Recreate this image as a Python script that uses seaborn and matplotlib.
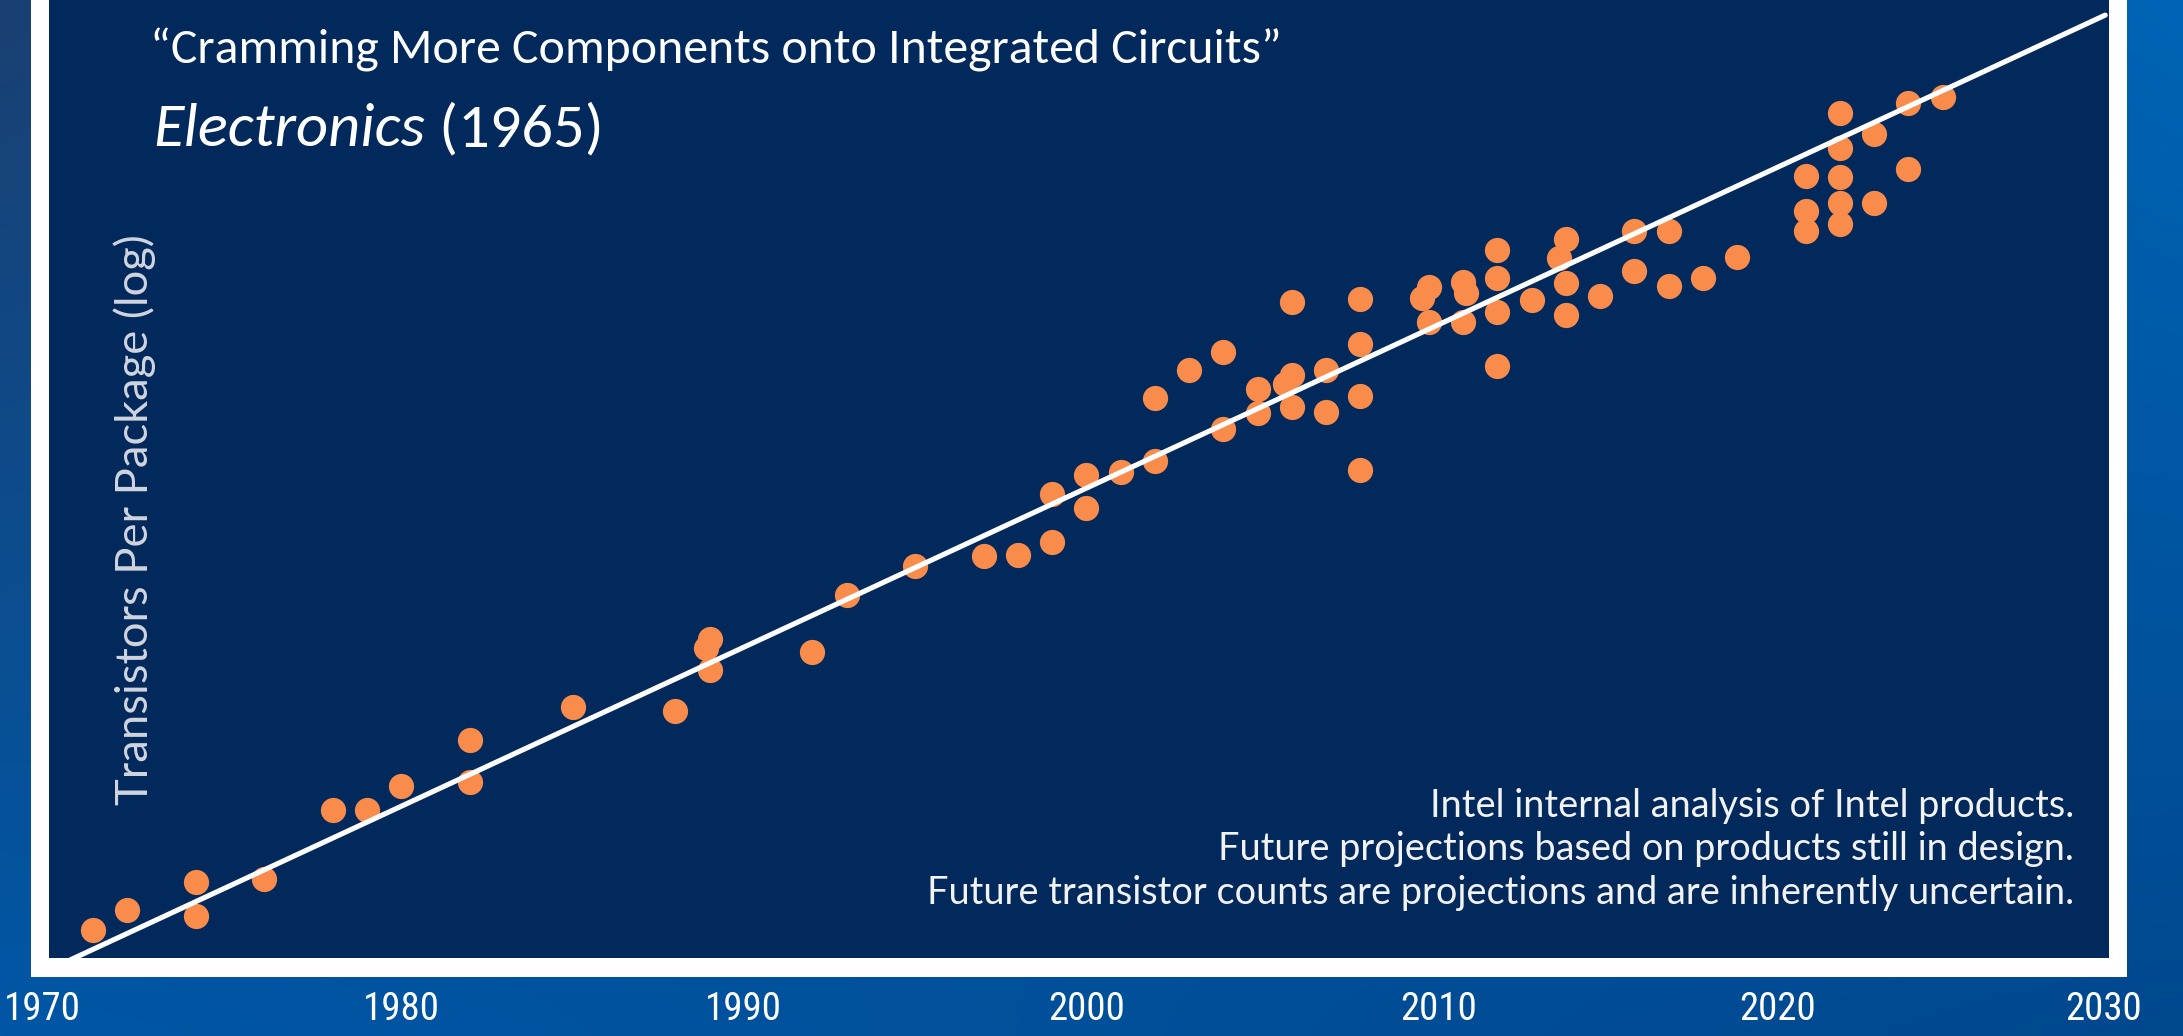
import numpy as np
import pandas as pd
import matplotlib
matplotlib.use("Agg")
import matplotlib.pyplot as plt
from matplotlib.patches import Rectangle
from matplotlib.transforms import ScaledTranslation
from matplotlib import font_manager
import seaborn as sns

# ---------------- data ----------------
years = [1971, 1972, 1974, 1974, 1976, 1978, 1979, 1980, 1982, 1982,
         1985, 1988, 1989, 1988.9, 1989, 1992, 1993, 1995, 1997, 1998,
         1999, 1999, 2000, 2000, 2001, 2002, 2002, 2003, 2004, 2004,
         2005, 2005, 2005.8, 2006, 2006, 2006, 2007, 2007, 2008, 2008, 2008, 2008,
         2009.8, 2010, 2010, 2011, 2011.1, 2011, 2012, 2012, 2012, 2012,
         2013, 2014, 2013.8, 2014, 2014, 2015, 2016, 2016, 2017, 2017,
         2018, 2019, 2021, 2021, 2021, 2022, 2022, 2022, 2022, 2022,
         2023, 2023, 2024, 2024, 2025]
log10_transistors = [3.36, 3.55, 3.81, 3.49, 3.84, 4.50, 4.50, 4.73, 5.17, 4.77,
                     5.48, 5.44, 6.13, 6.04, 5.83, 6.00, 6.55, 6.82, 6.92, 6.93,
                     7.05, 7.51, 7.38, 7.69, 7.72, 7.82, 8.42, 8.69, 8.86, 8.13,
                     8.51, 8.28, 8.56, 8.64, 8.34, 9.34, 8.69, 8.29, 9.37, 8.94, 8.44, 7.74,
                     9.38, 9.48, 9.15, 9.53, 9.42, 9.15, 9.83, 9.57, 9.24, 8.73,
                     9.36, 9.94, 9.76, 9.52, 9.21, 9.39, 10.01, 9.63, 10.01, 9.49,
                     9.57, 9.77, 10.54, 10.20, 10.01, 11.14, 10.80, 10.53, 10.28, 10.08,
                     10.94, 10.28, 11.23, 10.60, 11.29]
trend_years = [1970, 2029.75]
trend_log10 = [3.02, 12.07]
xtick_years = [1970, 1980, 1990, 2000, 2010, 2020, 2030]

title_line1 = "\u201cCramming More Components onto Integrated Circuits\u201d"
title_italic = "Electronics"
title_rest = " (1965)"
ylabel = "Transistors Per Package (log)"
notes = ["Intel internal analysis of Intel products.",
         "Future projections based on products still in design.",
         "Future transistor counts are projections and are inherently uncertain."]

df = pd.DataFrame({"year": years, "transistors": 10 ** np.array(log10_transistors)})
df_trend = pd.DataFrame({"year": trend_years, "transistors": 10 ** np.array(trend_log10)})

# ---------------- styling ----------------
sns.set_theme(style="white")
available = {f.name for f in font_manager.fontManager.ttflist}
def pick(*names):
    for n in names:
        if n in available:
            return n
    return "DejaVu Sans"
title_font = pick("Carlito", "Roboto Condensed", "Liberation Sans Narrow", "Lato", "DejaVu Sans")
body_font = pick("Lato", "Open Sans", "Noto Sans", "DejaVu Sans")
tick_font = pick("Liberation Sans Narrow", "Roboto Condensed", "Lato", "DejaVu Sans")
plt.rcParams["font.family"] = [body_font, "DejaVu Sans"]

W, H = 2183, 1036
DPI = 100
fig = plt.figure(figsize=(W / DPI, H / DPI), dpi=DPI)

def fx(px):
    return px / W
def fy(py):
    return 1 - py / H

# background gradient
bg = fig.add_axes([0, 0, 1, 1], zorder=-10)
tl = np.array([0x1A, 0x40, 0x72]) / 255
bl = np.array([0x00, 0x57, 0xA6]) / 255
tr = np.array([0x00, 0x64, 0xB6]) / 255
br = np.array([0x00, 0x48, 0x8E]) / 255
u = np.linspace(0, 1, 200)[None, :, None]
v = np.linspace(0, 1, 100)[:, None, None]
grad = (1 - u) * (1 - v) * tl + u * (1 - v) * tr + (1 - u) * v * bl + u * v * br
bg.imshow(grad, extent=[0, 1, 0, 1], aspect="auto", origin="upper", interpolation="bilinear")
bg.set_axis_off()

# white frame and navy panel
fig.add_artist(Rectangle((fx(31), fy(977)), fx(2127) - fx(31), fy(0) - fy(977),
                         transform=fig.transFigure, facecolor="white", edgecolor="none", zorder=-5))
fig.add_artist(Rectangle((fx(49), fy(958)), fx(2109) - fx(49), fy(0) - fy(958),
                         transform=fig.transFigure, facecolor="#02295B", edgecolor="none", zorder=-4))

# main axes (transparent, spans the navy panel)
ax_left, ax_right, ax_top, ax_bottom = 49, 2120, 0, 958
ax = fig.add_axes([fx(ax_left), fy(ax_bottom), fx(ax_right) - fx(ax_left), fy(ax_top) - fy(ax_bottom)])
ax.patch.set_alpha(0)
px_per_year = 34.25
x_1980 = 401.3
ax.set_xlim(1980 + (ax_left - x_1980) / px_per_year, 1980 + (ax_right - x_1980) / px_per_year)
ax.set_yscale("log")
ax.set_ylim(10 ** 3.089, 10 ** 12.214)

sns.scatterplot(data=df, x="year", y="transistors", ax=ax, s=330, color="#F98B4B",
                linewidth=0, zorder=3, legend=False)
sns.lineplot(data=df_trend, x="year", y="transistors", ax=ax, color="white",
             linewidth=3.7, zorder=4, legend=False)

for s in ax.spines.values():
    s.set_visible(False)
ax.set_xlabel("")
ax.set_ylabel("")
ax.set_yticks([])
ax.yaxis.set_minor_locator(matplotlib.ticker.NullLocator())
ax.set_xticks(xtick_years)
ax.set_xticklabels([str(y) for y in xtick_years], family=[tick_font, "DejaVu Sans"],
                   fontsize=28, color="white")
ax.tick_params(axis="x", length=0, pad=24)
ax.grid(False)

# texts
fig.canvas.draw()
r = fig.canvas.get_renderer()

# nudge some year labels as placed on the slide
label_shift_px = {"1970": -16, "2010": 10, "2020": 6, "2030": -10}
for lab in ax.get_xticklabels():
    dx = label_shift_px.get(lab.get_text(), 0)
    if dx:
        lab.set_transform(lab.get_transform() + ScaledTranslation(dx / DPI, 0, fig.dpi_scale_trans))

t1 = fig.text(fx(150), fy(63), title_line1, family=[title_font, "DejaVu Sans"], fontsize=40,
              color="white", ha="left", va="baseline")
bb1 = t1.get_window_extent(r)
t1.set_fontsize(40 * 1130 / bb1.width)

t2 = fig.text(fx(153), fy(146), title_italic, family=[title_font, "DejaVu Sans"], style="italic",
              fontsize=40, color="white", ha="left", va="baseline")
t3 = fig.text(fx(300), fy(146), title_rest, family=[title_font, "DejaVu Sans"],
              fontsize=40, color="white", ha="left", va="baseline")
w2 = t2.get_window_extent(r).width + t3.get_window_extent(r).width
fs2 = 40 * 450 / w2
t2.set_fontsize(fs2)
t3.set_fontsize(fs2)
bb2 = t2.get_window_extent(r)
t3.set_x(bb2.x1 / W)

yl = fig.text(fx(135), fy(520), ylabel, rotation=90, ha="center", va="center",
              fontsize=28, color="#D0D5DF", family=[body_font, "DejaVu Sans"])
bby = yl.get_window_extent(r)
yl.set_fontsize(yl.get_fontsize() * 571 / bby.height)

note_y = [806, 849, 893]
nt = []
for line, y in zip(notes, note_y):
    nt.append(fig.text(fx(2074), fy(y), line, ha="right", va="center", fontsize=21,
                       color="#F2F2F2", family=[body_font, "DejaVu Sans"]))
bbn = nt[2].get_window_extent(r)
fs_note = 21 * 1144 / bbn.width
for t in nt:
    t.set_fontsize(fs_note)

fig.savefig("out.png", dpi=DPI)
